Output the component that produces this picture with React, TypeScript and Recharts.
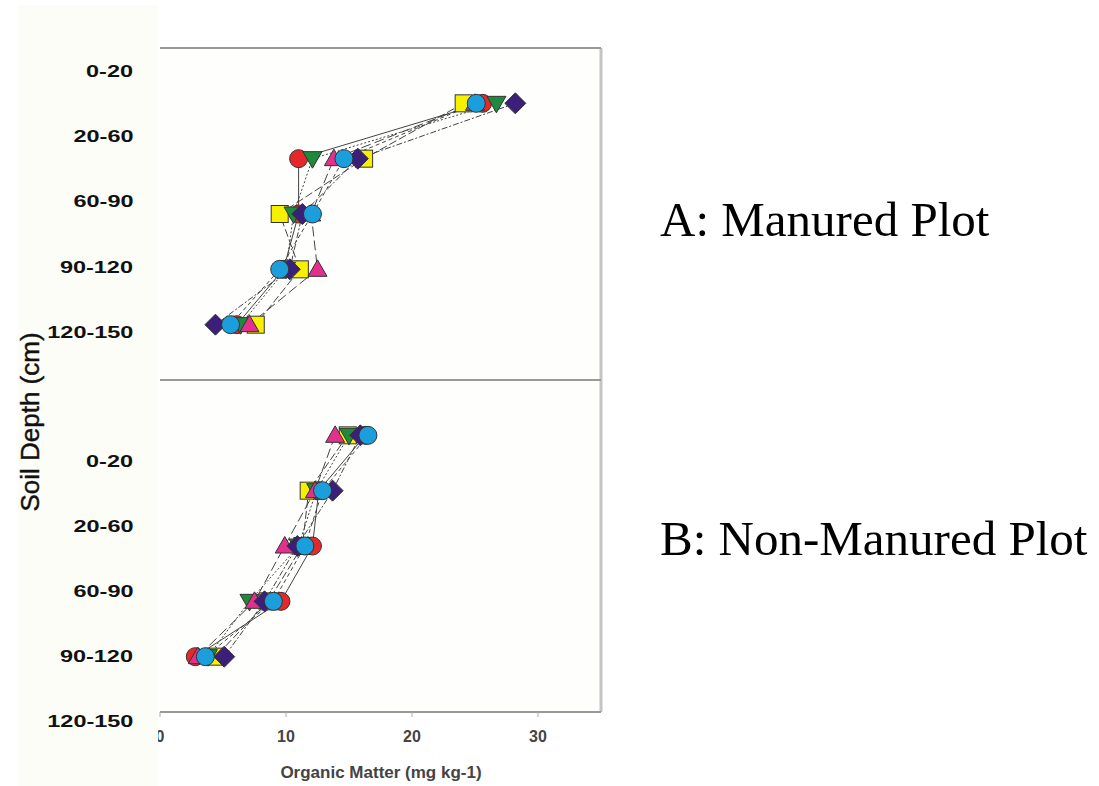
import React from 'react'
import { ScatterChart, Scatter, XAxis, YAxis, CartesianGrid, ReferenceLine } from 'recharts'

// depth classes (rows) and x ticks
const depthLabels = ['0-20', '20-60', '60-90', '90-120', '120-150']
const depthIdx = [0, 1, 2, 3, 4]
const xTicks = [0, 10, 20, 30]

// A: manured plot, organic matter per depth class
const manuredSquare = [24.1, 16.2, 9.5, 11.1, 7.6]
const manuredRed = [25.6, 11.0, 11.0, 9.8, 6.1]
const manuredGreen = [26.7, 12.1, 10.6, 10.0, 6.4]
const manuredPink = [25.0, 13.8, 12.0, 12.5, 7.1]
const manuredDiamond = [28.2, 15.7, 11.3, 10.3, 4.4]
const manuredCyan = [25.1, 14.6, 12.1, 9.5, 5.6]

// B: non-manured plot
const plainSquare = [14.9, 11.8, 11.3, 8.6, 4.4]
const plainRed = [16.3, 12.6, 12.1, 9.6, 2.8]
const plainGreen = [15.0, 12.4, 11.0, 7.1, 3.8]
const plainPink = [13.9, 12.3, 9.9, 7.5, 3.0]
const plainDiamond = [15.9, 13.7, 10.9, 8.3, 5.1]
const plainCyan = [16.5, 12.9, 11.5, 9.0, 3.6]

type Kind = 'square' | 'circle' | 'triDown' | 'triUp' | 'diamond'

const styles: { kind: Kind; fill: string; dash: string }[] = [
  { kind: 'square', fill: '#f7f000', dash: '8 3' },
  { kind: 'circle', fill: '#e5292b', dash: '' },
  { kind: 'triDown', fill: '#1f8a3e', dash: '2 2' },
  { kind: 'triUp', fill: '#e2318c', dash: '10 4' },
  { kind: 'diamond', fill: '#3b1f78', dash: '6 2 2 2' },
  { kind: 'circle', fill: '#1b9fdc', dash: '4 3' },
]

const toPoints = (vals: number[]) => vals.map((v, i) => ({ x: v, y: depthIdx[i] }))

function Marker({ cx, cy, kind, fill }: { cx: number; cy: number; kind: Kind; fill: string }) {
  const s = { fill, stroke: '#333', strokeWidth: 1 }
  if (cx == null || cy == null) return <g />
  switch (kind) {
    case 'square':
      return <rect x={cx - 8.5} y={cy - 8.5} width={17} height={17} {...s} />
    case 'circle':
      return <circle cx={cx} cy={cy} r={9} {...s} />
    case 'triDown':
      return <polygon points={`${cx - 9.5},${cy - 7} ${cx + 9.5},${cy - 7} ${cx},${cy + 9.5}`} {...s} />
    case 'triUp':
      return <polygon points={`${cx - 9.5},${cy + 7} ${cx + 9.5},${cy + 7} ${cx},${cy - 9.5}`} {...s} />
    default:
      return <polygon points={`${cx},${cy - 10.5} ${cx + 10.5},${cy} ${cx},${cy + 10.5} ${cx - 10.5},${cy}`} {...s} />
  }
}

const tickStyle = { fill: '#444', fontSize: 16, fontWeight: 'bold', fontFamily: 'Liberation Sans, Arial' }

function Panel({ series, bottom }: { series: number[][]; bottom: boolean }) {
  const data = series.map(toPoints)
  return (
    <ScatterChart
      width={620}
      height={bottom ? 406 : 380}
      margin={bottom ? { top: 0, right: 19, bottom: 34, left: 160 } : { top: 48, right: 19, bottom: 0, left: 160 }}
    >
      <CartesianGrid horizontal={false} vertical={false} fill="#fefefc" />
      <XAxis
        type="number"
        dataKey="x"
        domain={[0, 35]}
        ticks={xTicks}
        hide={!bottom}
        height={40}
        tickSize={5}
        tickMargin={14}
        axisLine={{ stroke: '#999', strokeWidth: 2 }}
        tickLine={{ stroke: '#aaa' }}
        tick={tickStyle}
        allowDataOverflow
      />
      <YAxis
        type="number"
        dataKey="y"
        domain={[-1, 5]}
        reversed
        width={0}
        tick={false}
        tickLine={false}
        axisLine={{ stroke: '#333', strokeWidth: 2 }}
        allowDataOverflow
      />
      <ReferenceLine x={35} stroke="#c4c4c4" strokeWidth={3} />
      <ReferenceLine y={-1} stroke="#999" strokeWidth={2} />
      {!bottom && <ReferenceLine y={5} stroke="#999" strokeWidth={2} />}
      {data.map((d, i) => (
        <Scatter
          key={`l${i}`}
          data={d}
          isAnimationActive={false}
          line={{ stroke: '#444', strokeWidth: 1, strokeDasharray: styles[i].dash }}
          lineType="joint"
          shape={() => <g />}
        />
      ))}
      {data.map((d, i) => (
        <Scatter
          key={`m${i}`}
          data={d}
          isAnimationActive={false}
          shape={(p: any) => <Marker cx={p.cx} cy={p.cy} kind={styles[i].kind} fill={styles[i].fill} />}
        />
      ))}
    </ScatterChart>
  )
}

const labelStyle: React.CSSProperties = {
  position: 'absolute',
  right: 1099 - 133,
  fontFamily: 'Liberation Sans, Arial',
  fontWeight: 'bold',
  fontSize: 17,
  lineHeight: '18px',
  color: '#111',
  transform: 'scaleX(1.38)',
  transformOrigin: 'right center',
  whiteSpace: 'nowrap',
}

export default function App() {
  return (
    <div style={{ position: 'absolute', left: 0, top: 0, width: 1099, height: 786, background: '#fff', overflow: 'hidden' }}>
      <div style={{ position: 'absolute', left: 0, top: 0 }}>
        <Panel
          series={[manuredSquare, manuredRed, manuredGreen, manuredPink, manuredDiamond, manuredCyan]}
          bottom={false}
        />
      </div>
      <div style={{ position: 'absolute', left: 0, top: 380 }}>
        <Panel series={[plainSquare, plainRed, plainGreen, plainPink, plainDiamond, plainCyan]} bottom />
      </div>

      {/* left label strip */}
      <div style={{ position: 'absolute', left: 18, top: 5, width: 140, height: 781, background: '#fdfdf8' }} />
      {depthLabels.map((l, i) => (
        <div key={`a${l}`} style={{ ...labelStyle, top: 72 + i * 65.2 - 9 }}>
          {l}
        </div>
      ))}
      {depthLabels.map((l, i) => (
        <div key={`b${l}`} style={{ ...labelStyle, top: 462 + i * 65 - 9 }}>
          {l}
        </div>
      ))}
      <div
        style={{
          position: 'absolute',
          left: 30,
          top: 422,
          transform: 'translate(-50%, -50%) rotate(-90deg)',
          fontFamily: 'Liberation Sans, Arial',
          fontSize: 26,
          color: '#111',
          whiteSpace: 'nowrap',
          WebkitTextStroke: '0.4px #111',
        }}
      >
        Soil Depth (cm)
      </div>

      <div
        style={{
          position: 'absolute',
          left: 381,
          top: 764,
          transform: 'translateX(-50%)',
          fontFamily: 'Liberation Sans, Arial',
          fontWeight: 'bold',
          fontSize: 17,
          lineHeight: '18px',
          color: '#444',
          whiteSpace: 'nowrap',
        }}
      >
        Organic Matter (mg kg-1)
      </div>

      <div style={{ position: 'absolute', left: 660, top: 195, fontFamily: 'Liberation Serif', fontSize: 49, lineHeight: 1, color: '#000', whiteSpace: 'nowrap' }}>
        A: Manured Plot
      </div>
      <div style={{ position: 'absolute', left: 660, top: 514, fontFamily: 'Liberation Serif', fontSize: 49, lineHeight: 1, color: '#000', whiteSpace: 'nowrap' }}>
        B: Non-Manured Plot
      </div>
    </div>
  )
}
